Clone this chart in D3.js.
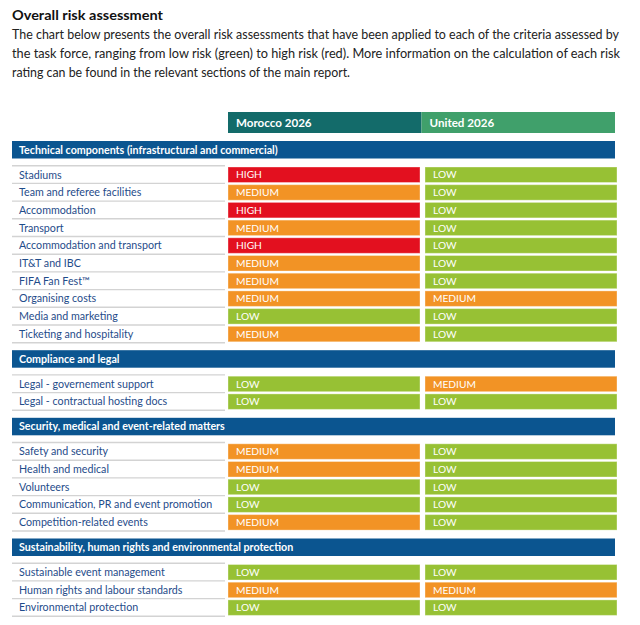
<!DOCTYPE html>
<html><head><meta charset="utf-8">
<script src="https://cdn.jsdelivr.net/npm/d3@7"></script>
<style>
body{margin:0;background:#fff;}
svg{display:block;font-family:Lato,"Open Sans",sans-serif;}
</style></head>
<body><div id="chart"></div>
<script>
const title = "Overall risk assessment";
const intro = [
  "The chart below presents the overall risk assessments that have been applied to each of the criteria assessed by",
  "the task force, ranging from low risk (green) to high risk (red). More information on the calculation of each risk",
  "rating can be found in the relevant sections of the main report."
];
const bids = ["Morocco 2026", "United 2026"];
const sections = [
  "Technical components (infrastructural and commercial)",
  "Compliance and legal",
  "Security, medical and event-related matters",
  "Sustainability, human rights and environmental protection"
];
const criteria = [
  ["Stadiums","Team and referee facilities","Accommodation","Transport","Accommodation and transport","IT&T and IBC","FIFA Fan Fest\u2122","Organising costs","Media and marketing","Ticketing and hospitality"],
  ["Legal - governement support","Legal - contractual hosting docs"],
  ["Safety and security","Health and medical","Volunteers","Communication, PR and event promotion","Competition-related events"],
  ["Sustainable event management","Human rights and labour standards","Environmental protection"]
];
const moroccoRisk = [
  ["HIGH","MEDIUM","HIGH","MEDIUM","HIGH","MEDIUM","MEDIUM","MEDIUM","LOW","MEDIUM"],
  ["LOW","LOW"],
  ["MEDIUM","MEDIUM","LOW","LOW","MEDIUM"],
  ["LOW","MEDIUM","LOW"]
];
const unitedRisk = [
  ["LOW","LOW","LOW","LOW","LOW","LOW","LOW","MEDIUM","LOW","LOW"],
  ["MEDIUM","LOW"],
  ["LOW","LOW","LOW","LOW","LOW"],
  ["LOW","MEDIUM","LOW"]
];
const levels = ["LOW","MEDIUM","HIGH"];

const W = 640, H = 625;
const svg = d3.select("#chart").append("svg").attr("width", W).attr("height", H);

const color = d3.scaleOrdinal().domain(levels).range(["#97c134","#f29325","#e3101f"]);
const headColor = d3.scaleOrdinal().domain(bids).range(["#136b6a","#40a06b"]);

const x = d3.scaleBand().domain(bids).range([228, 615]).padding(0);

const ROW = 17.7, SEC_H = 17.5, SEC_GAP = 24.7, AFTER = 7.5;
let cur = 141;
const secItems = [], rowItems = [];
sections.forEach((s, si) => {
  secItems.push({name: s, y: cur});
  let ry = cur + SEC_GAP;
  criteria[si].forEach((c, ci) => {
    rowItems.push({name: c, y: ry, vals: [moroccoRisk[si][ci], unitedRisk[si][ci]], last: ci === criteria[si].length - 1});
    ry += ROW;
  });
  cur = ry + AFTER;
});
const y = d3.scaleLinear().domain([0, H]).range([0, H]);

svg.append("text").attr("x", 12).attr("y", 20).attr("font-size", 14).attr("font-weight", 700)
  .attr("fill", "#111").attr("textLength", 151).attr("lengthAdjust", "spacingAndGlyphs").text(title);
const introLen = [607, 608, 338];
svg.selectAll("text.intro").data(intro).join("text").attr("class","intro")
  .attr("x", 12).attr("y", (d,i) => 39 + i*19).attr("font-size", 12.6).attr("fill", "#222")
  .attr("textLength", (d,i) => introLen[i]).attr("lengthAdjust", "spacingAndGlyphs")
  .text(d => d);

const hg = svg.selectAll("g.head").data(bids).join("g").attr("class","head");
hg.append("rect").attr("x", d => x(d)).attr("y", 112).attr("width", x.bandwidth()).attr("height", 21)
  .attr("fill", d => headColor(d));
hg.append("text").attr("x", d => x(d) + 8).attr("y", 127).attr("font-size", 11.6).attr("font-weight", 700)
  .attr("fill", "#fff").text(d => d);

const sg = svg.selectAll("g.sec").data(secItems).join("g").attr("class","sec");
sg.append("rect").attr("x", 12).attr("y", d => y(d.y)).attr("width", 603).attr("height", SEC_H).attr("fill", "#0b5590");
sg.append("text").attr("x", 19).attr("y", d => y(d.y) + 12.6).attr("font-size", 10.7).attr("font-weight", 700)
  .attr("fill", "#fff").text(d => d.name);

const rg = svg.selectAll("g.row").data(rowItems).join("g").attr("class","row");
rg.append("line").attr("x1", 12).attr("x2", 225).attr("y1", d => y(d.y)).attr("y2", d => y(d.y))
  .attr("stroke", "#d3d3d3").attr("stroke-width", 1.4);
rg.filter(d => d.last).append("line").attr("x1", 12).attr("x2", 225)
  .attr("y1", d => y(d.y + ROW)).attr("y2", d => y(d.y + ROW))
  .attr("stroke", "#d3d3d3").attr("stroke-width", 1.4);
rg.append("text").attr("x", 19).attr("y", d => y(d.y) + 12.8).attr("font-size", 10.7)
  .attr("fill", "#1f4c8a").text(d => d.name);

rg.each(function(d) {
  const g = d3.select(this);
  const cells = d.vals.map((v, i) => ({v, bid: bids[i], i, y: d.y}));
  const cg = g.selectAll("g.cell").data(cells).join("g").attr("class","cell");
  const cx = c => x(c.bid) + (c.i ? 3.5 : 0);
  cg.append("rect")
    .attr("x", cx)
    .attr("y", c => y(c.y) + 1.3)
    .attr("width", x.bandwidth() - 1.5)
    .attr("height", 15.5)
    .attr("fill", c => color(c.v))
    .attr("stroke", "rgba(255,255,255,0.35)").attr("stroke-width", 1);
  cg.append("text")
    .attr("x", c => cx(c) + 8)
    .attr("y", c => y(c.y) + 12.7).attr("font-size", 10.2).attr("fill", "#fff")
    .text(c => c.v);
});
</script></body></html>
